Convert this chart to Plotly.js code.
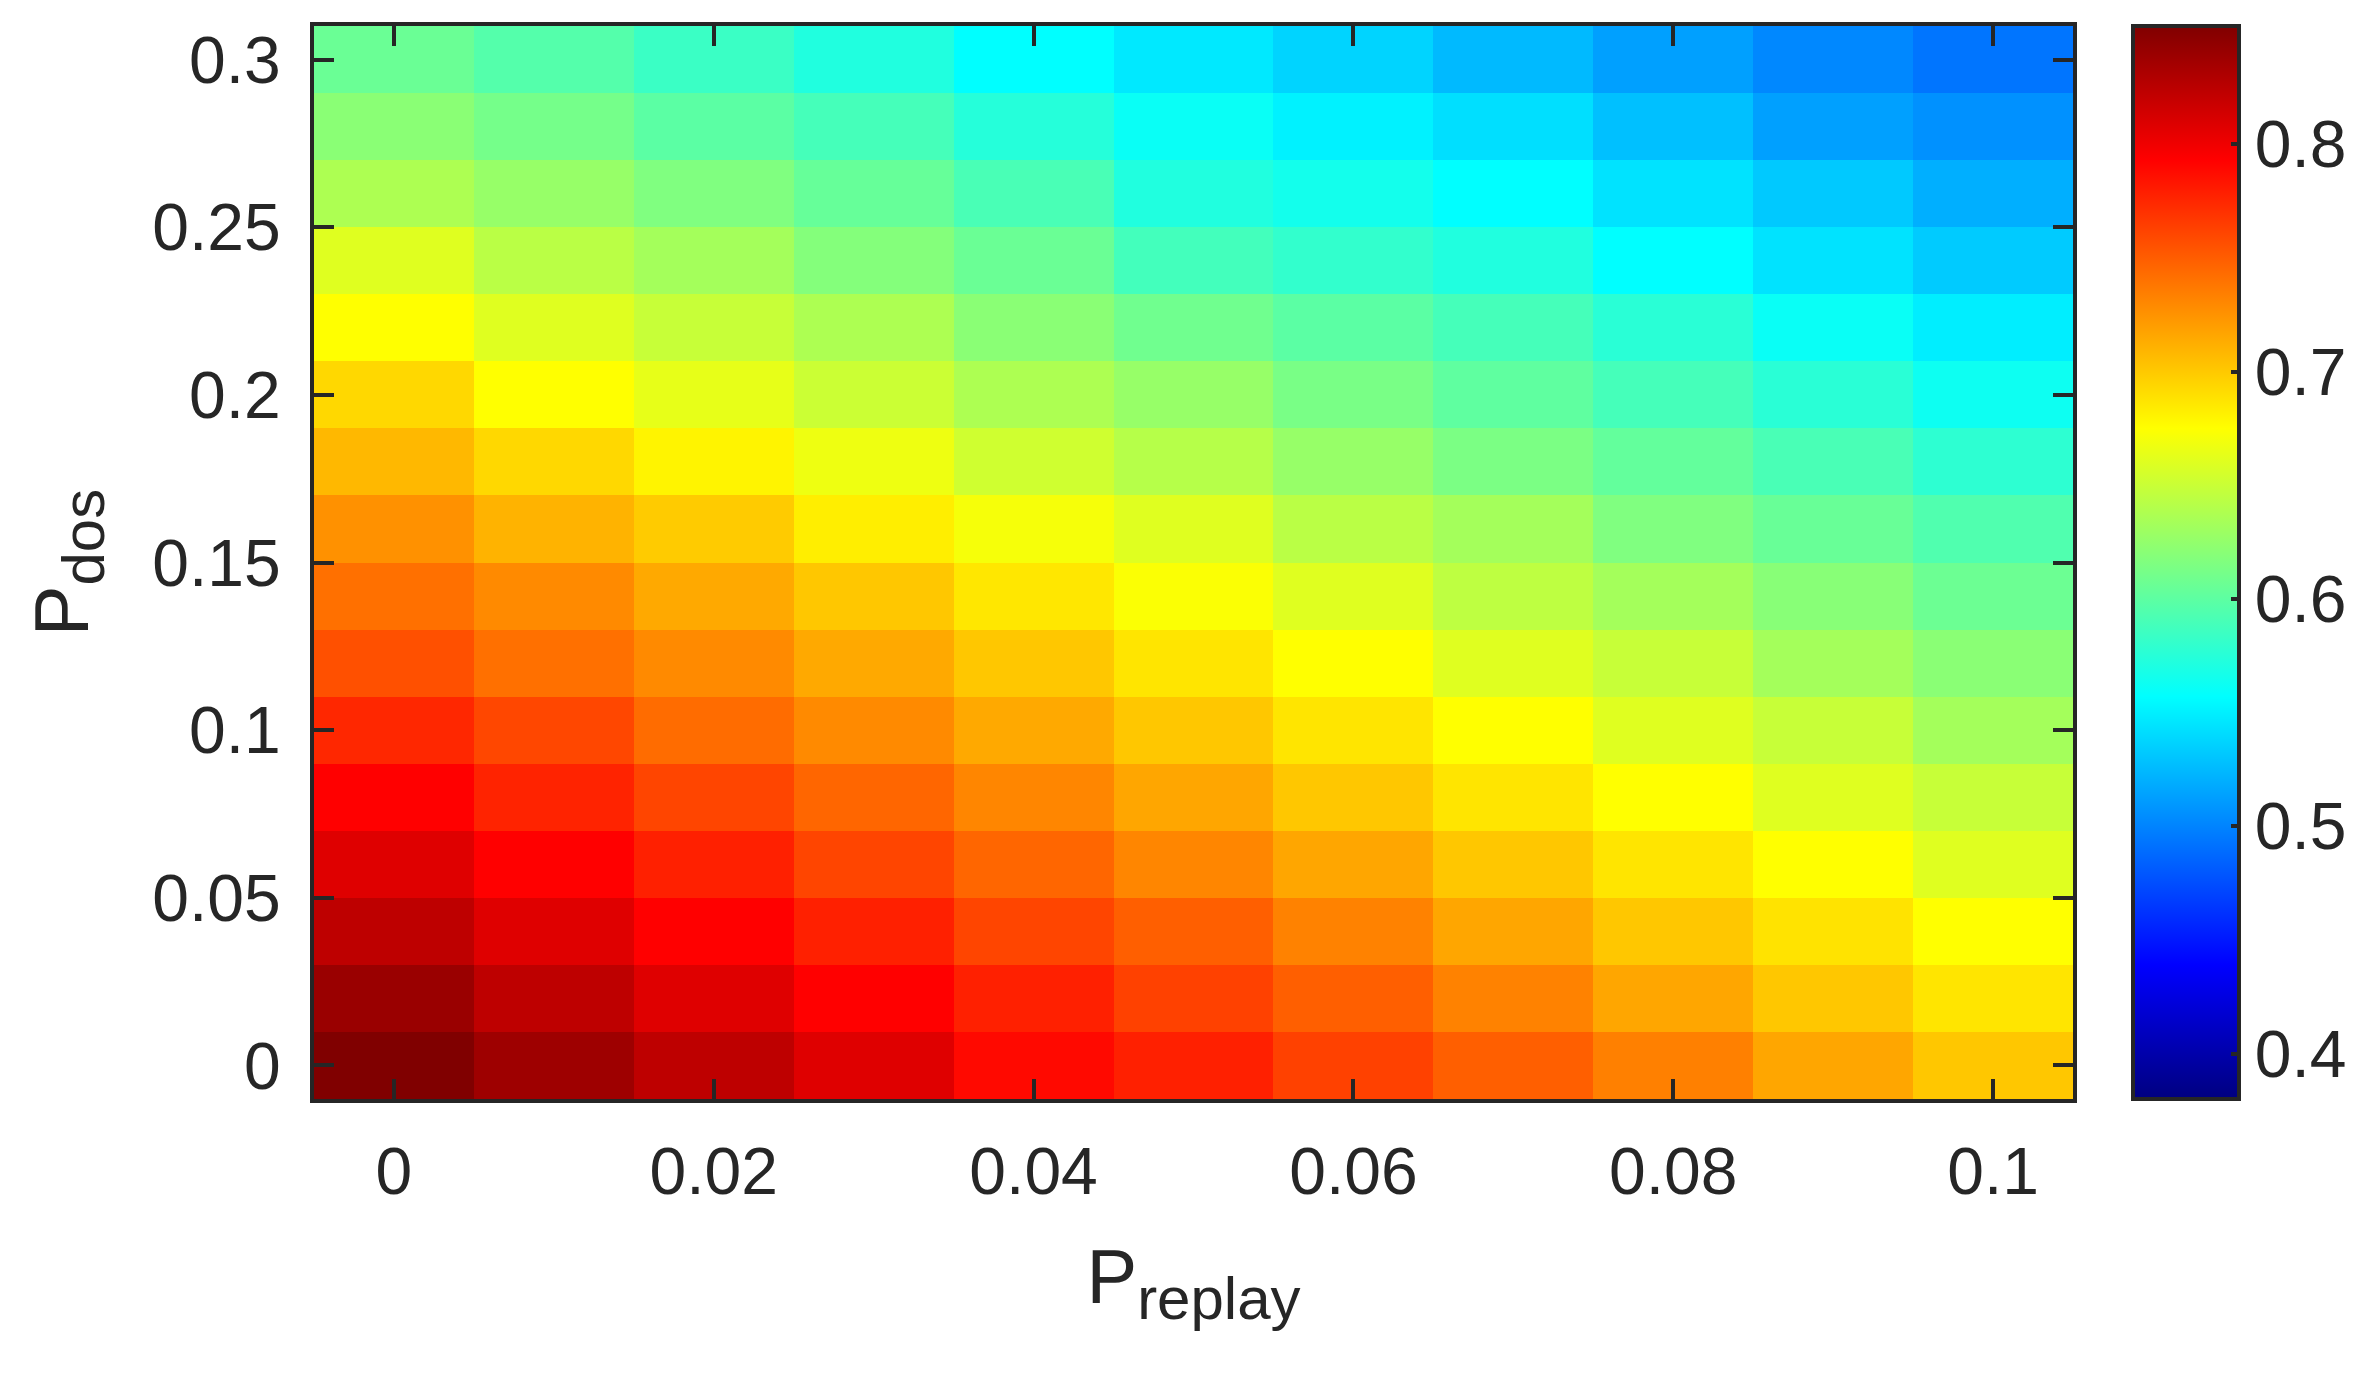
<!DOCTYPE html>
<html>
<head>
<meta charset="utf-8">
<script src="https://cdn.plot.ly/plotly-3.0.1.min.js"></script>
<style>
  html, body { margin: 0; padding: 0; background: #fff; }
  #heat { width: 2380px; height: 1373px; }
</style>
</head>
<body>
<div id="heat"></div>
<script>
// P_replay along x, P_dos along y
var pReplay = [0, 0.01, 0.02, 0.03, 0.04, 0.05, 0.06, 0.07, 0.08, 0.09, 0.1];
var pDos = [0, 0.02, 0.04, 0.06, 0.08, 0.1, 0.12, 0.14, 0.16, 0.18, 0.2, 0.22, 0.24, 0.26, 0.28, 0.3];

// one row per P_dos value, bottom (0) to top (0.3)
var rate = [
    [0.852, 0.838, 0.823, 0.808, 0.789, 0.778, 0.763, 0.749, 0.734, 0.716, 0.701],
    [0.840, 0.823, 0.808, 0.793, 0.778, 0.763, 0.749, 0.733, 0.716, 0.701, 0.687],
    [0.823, 0.808, 0.793, 0.778, 0.761, 0.749, 0.733, 0.716, 0.701, 0.688, 0.675],
    [0.808, 0.793, 0.778, 0.761, 0.746, 0.731, 0.716, 0.701, 0.687, 0.675, 0.660],
    [0.793, 0.777, 0.761, 0.746, 0.731, 0.716, 0.701, 0.687, 0.675, 0.660, 0.649],
    [0.775, 0.760, 0.743, 0.729, 0.715, 0.701, 0.687, 0.675, 0.660, 0.649, 0.633],
    [0.756, 0.741, 0.729, 0.715, 0.701, 0.687, 0.675, 0.660, 0.649, 0.633, 0.621],
    [0.741, 0.729, 0.715, 0.701, 0.686, 0.673, 0.660, 0.645, 0.633, 0.620, 0.607],
    [0.726, 0.710, 0.699, 0.683, 0.671, 0.660, 0.643, 0.633, 0.616, 0.605, 0.594],
    [0.708, 0.693, 0.680, 0.667, 0.653, 0.641, 0.627, 0.614, 0.603, 0.591, 0.578],
    [0.693, 0.675, 0.664, 0.651, 0.637, 0.627, 0.613, 0.601, 0.589, 0.576, 0.563],
    [0.675, 0.660, 0.649, 0.637, 0.621, 0.609, 0.599, 0.589, 0.576, 0.561, 0.549],
    [0.660, 0.643, 0.633, 0.618, 0.606, 0.588, 0.580, 0.572, 0.557, 0.544, 0.533],
    [0.637, 0.627, 0.616, 0.604, 0.591, 0.572, 0.566, 0.557, 0.544, 0.532, 0.520],
    [0.621, 0.611, 0.599, 0.589, 0.574, 0.561, 0.551, 0.542, 0.528, 0.513, 0.506],
    [0.606, 0.596, 0.584, 0.572, 0.557, 0.547, 0.537, 0.525, 0.513, 0.502, 0.493]
];

var xTicks = [0, 0.02, 0.04, 0.06, 0.08, 0.1];
var yTicks = [0, 0.05, 0.1, 0.15, 0.2, 0.25, 0.3];
var barTicks = [0.4, 0.5, 0.6, 0.7, 0.8];

// matlab style jet
var jet = [
    [0, 'rgb(0,0,128)'],
    [0.125, 'rgb(0,0,255)'],
    [0.375, 'rgb(0,255,255)'],
    [0.625, 'rgb(255,255,0)'],
    [0.875, 'rgb(255,0,0)'],
    [1, 'rgb(128,0,0)']
];

var ink = '#262626';
var font = 'Liberation Sans, Arial, Helvetica, sans-serif';

var axisCommon = {
    showline: true,
    linecolor: ink,
    linewidth: 4,
    mirror: 'ticks',
    ticks: 'inside',
    ticklen: 20,
    tickwidth: 4,
    tickcolor: ink,
    showgrid: false,
    zeroline: false,
    tickfont: { family: font, size: 66, color: ink }
};

Plotly.newPlot('heat', [{
        type: 'heatmap',
        x: pReplay,
        y: pDos,
        z: rate,
        zmin: 0.38,
        zmax: 0.852,
        colorscale: jet,
        colorbar: {
            x: 1.034,
            xanchor: 'left',
            xpad: 0,
            ypad: 0,
            y: 0.5,
            yanchor: 'middle',
            len: 1,
            thickness: 106,
            outlinewidth: 4,
            outlinecolor: ink,
            ticks: 'inside',
            ticklen: 10,
            tickwidth: 4,
            tickcolor: ink,
            tickvals: barTicks,
            ticktext: barTicks.map(String),
            tickfont: { family: font, size: 66, color: ink }
        }
    }],
    {
        width: 2380,
        height: 1373,
        paper_bgcolor: '#fff',
        plot_bgcolor: '#fff',
        margin: { l: 314, r: 307, t: 26, b: 274, pad: 0 },
        xaxis: Object.assign({}, axisCommon, {
            range: [-0.005, 0.105],
            tickvals: xTicks,
            ticktext: xTicks.map(String),
            ticklabelstandoff: 12,
            title: {
                text: 'P<sub><span style="font-size:60px">replay</span></sub>',
                font: { family: font, size: 76, color: ink },
                standoff: 44
            }
        }),
        yaxis: Object.assign({}, axisCommon, {
            range: [-0.01, 0.31],
            tickvals: yTicks,
            ticktext: yTicks.map(String),
            ticklabelstandoff: 16,
            title: {
                text: 'P<sub><span style="font-size:60px">dos</span></sub>',
                font: { family: font, size: 76, color: ink },
                standoff: 40
            }
        })
    },
    { displayModeBar: false, staticPlot: true }
);
</script>
</body>
</html>
